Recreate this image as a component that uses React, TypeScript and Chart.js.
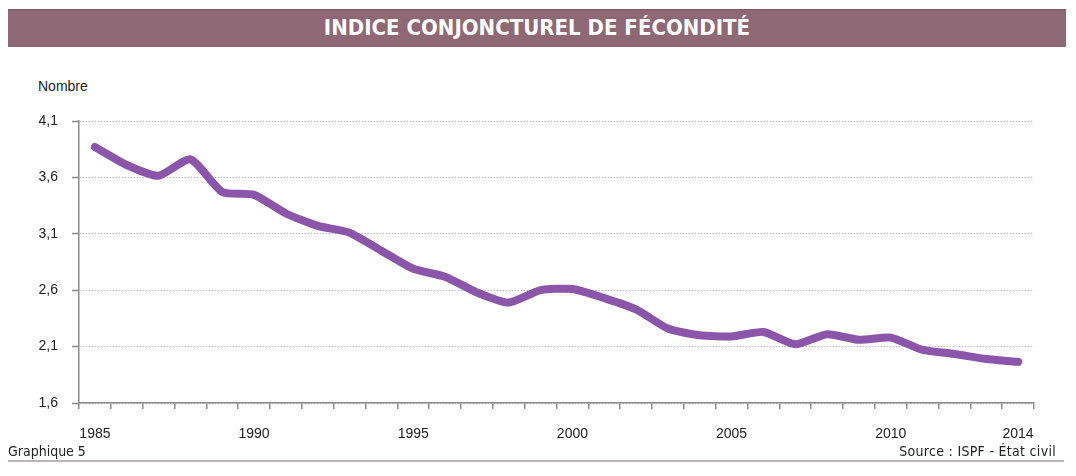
import React, { useEffect, useRef } from "react";
import { Chart, registerables } from "chart.js";

Chart.register(...registerables);

const years: string[] = [
  "1985", "1986", "1987", "1988", "1989", "1990", "1991", "1992", "1993", "1994",
  "1995", "1996", "1997", "1998", "1999", "2000", "2001", "2002", "2003", "2004",
  "2005", "2006", "2007", "2008", "2009", "2010", "2011", "2012", "2013", "2014",
];
const fertility: number[] = [
  3.87, 3.71, 3.615, 3.76, 3.47, 3.445, 3.28, 3.17, 3.11, 2.95,
  2.79, 2.72, 2.58, 2.49, 2.60, 2.61, 2.53, 2.43, 2.26, 2.20,
  2.19, 2.23, 2.12, 2.21, 2.16, 2.18, 2.07, 2.035, 1.99, 1.965,
];
const shownYearLabels: string[] = ["1985", "1990", "1995", "2000", "2005", "2010", "2014"];
const yMin = 1.6;
const yMax = 4.1;
const yStep = 0.5;

const TITLE = "INDICE CONJONCTUREL DE FÉCONDITÉ";
const Y_TITLE = "Nombre";
const FOOT_LEFT = "Graphique 5";
const FOOT_RIGHT = "Source : ISPF - État civil";

export default function App() {
  const canvasRef = useRef<HTMLCanvasElement | null>(null);

  useEffect(() => {
    if (!canvasRef.current) return;
    const chart = new Chart(canvasRef.current, {
      type: "line",
      data: {
        labels: years,
        datasets: [
          {
            data: fertility,
            borderColor: "#8b55a9",
            borderWidth: 8,
            pointRadius: 0,
            tension: 0.2,
            borderCapStyle: "round",
            borderJoinStyle: "round",
            fill: false,
          },
        ],
      },
      options: {
        animation: false,
        responsive: true,
        maintainAspectRatio: false,
        layout: { padding: { top: 61, right: 34, left: 0, bottom: 0 } },
        plugins: { legend: { display: false }, tooltip: { enabled: false } },
        scales: {
          x: {
            type: "category",
            offset: true,
            grid: {
              offset: true,
              drawOnChartArea: false,
              drawTicks: true,
              tickLength: 6,
              color: "#8a8a8a",
              lineWidth: 1.5,
            },
            border: { display: true, color: "#8a8a8a", width: 1.5 },
            ticks: {
              autoSkip: false,
              maxRotation: 0,
              minRotation: 0,
              padding: 17,
              color: "#222",
              font: { family: "Liberation Sans, Arial, sans-serif", size: 14 },
              callback: function (this: any, value: any) {
                const lab = years[value as number];
                return shownYearLabels.includes(lab) ? lab : "";
              },
            },
            afterFit: (scale: any) => {
              scale.height = 42;
            },
          },
          y: {
            min: yMin,
            max: yMax,
            grid: {
              color: "#bdbdbd",
              lineWidth: 1,
              drawTicks: true,
              tickLength: 7,
              tickColor: "#8a8a8a",
              tickWidth: 1.5,
            },
            border: { display: true, color: "#8a8a8a", width: 1.5, dash: [1.5, 1.5] },
            ticks: {
              stepSize: yStep,
              padding: 14,
              color: "#222",
              font: { family: "Liberation Sans, Arial, sans-serif", size: 14 },
              callback: (v: any) => Number(v).toFixed(1).replace(".", ","),
            },
            afterFit: (scale: any) => {
              scale.width = 71;
            },
          },
        },
      },
    });
    return () => chart.destroy();
  }, []);

  return (
    <div style={{ position: "relative", width: 1060, height: 460, fontFamily: "Liberation Sans, Arial, sans-serif" }}>
      <div
        style={{
          position: "absolute",
          left: 0,
          top: 1,
          width: 1058,
          height: 38,
          background: "#8e6874",
          borderTop: "1px solid #7e5865",
          boxSizing: "border-box",
          color: "#fff",
          fontFamily: "DejaVu Sans Condensed, DejaVu Sans, sans-serif",
          fontWeight: "bold",
          fontSize: 22,
          lineHeight: "36px",
          textAlign: "center",
        }}
      >
        {TITLE}
      </div>
      <div style={{ position: "absolute", left: 30, top: 70, fontSize: 14, lineHeight: "16px", color: "#222" }}>
        {Y_TITLE}
      </div>
      <div style={{ position: "absolute", left: 0, top: 52, width: 1060, height: 385 }}>
        <canvas ref={canvasRef} />
      </div>
      <div
        style={{
          position: "absolute",
          left: 0,
          top: 435,
          fontFamily: "DejaVu Sans Condensed, DejaVu Sans, sans-serif",
          fontSize: 14,
          lineHeight: "16px",
          color: "#222",
        }}
      >
        {FOOT_LEFT}
      </div>
      <div
        style={{
          position: "absolute",
          right: 12,
          top: 435,
          fontFamily: "DejaVu Sans Condensed, DejaVu Sans, sans-serif",
          fontSize: 14,
          lineHeight: "16px",
          letterSpacing: 0.3,
          color: "#222",
        }}
      >
        {FOOT_RIGHT}
      </div>
      <div style={{ position: "absolute", left: 0, top: 452, width: 1056, height: 2, background: "#c0b4b8" }} />
    </div>
  );
}
